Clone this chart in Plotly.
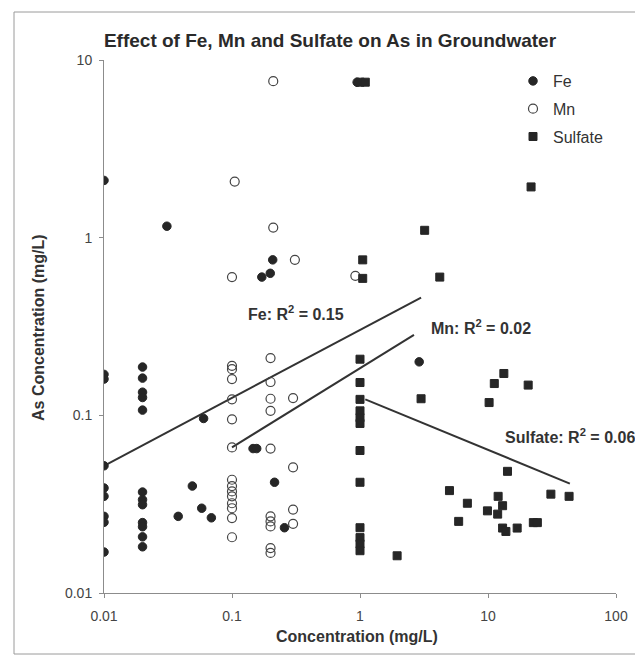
import plotly.graph_objects as go

# ---------------- data ----------------
fe_x = [0.01, 0.01, 0.01, 0.01, 0.01, 0.01, 0.01, 0.01, 0.01,
        0.02, 0.02, 0.02, 0.02, 0.02, 0.02, 0.02, 0.02, 0.02, 0.02, 0.02, 0.02,
        0.031, 0.038, 0.049, 0.058, 0.06, 0.069, 0.146, 0.156,
        0.171, 0.199, 0.208, 0.215, 0.257, 0.95, 2.9]
fe_y = [2.1, 0.17, 0.16, 0.052, 0.039, 0.035, 0.027, 0.025, 0.017,
        0.187, 0.162, 0.135, 0.126, 0.107, 0.037, 0.0335, 0.0314, 0.0249, 0.0236, 0.0207, 0.0182,
        1.16, 0.027, 0.040, 0.030, 0.096, 0.0265, 0.065, 0.065,
        0.60, 0.63, 0.75, 0.042, 0.0233, 7.5, 0.20]

mn_x = [0.21, 0.105, 0.21, 0.31, 0.1, 0.92, 0.2, 0.1,
        0.1, 0.1, 0.1, 0.1, 0.1, 0.1, 0.1, 0.1, 0.1, 0.1, 0.1, 0.1, 0.1,
        0.2, 0.2, 0.2, 0.2, 0.2, 0.2, 0.2, 0.2, 0.2,
        0.3, 0.3, 0.3, 0.3]
mn_y = [7.6, 2.07, 1.14, 0.75, 0.60, 0.61, 0.21, 0.19,
        0.182, 0.16, 0.123, 0.095, 0.066, 0.0434, 0.040, 0.0373, 0.035, 0.032, 0.030, 0.0264, 0.0206,
        0.154, 0.124, 0.106, 0.065, 0.027, 0.0253, 0.0237, 0.0179, 0.0168,
        0.125, 0.051, 0.0295, 0.0245]

so4_x = [1.0, 1.1, 3.2, 1.05, 1.05, 4.2, 21.7,
         1.0, 1.0, 1.0, 1.0, 1.0, 1.0, 1.0, 1.0, 1.0, 1.0, 1.0, 1.0,
         1.95, 3.0, 5.0, 5.9, 6.9, 9.9, 10.2, 11.2, 13.3, 20.6, 14.2,
         12.0, 13.0, 11.9, 13.0, 13.8, 16.9, 22.6, 24.3, 31, 43]
so4_y = [7.5, 7.5, 1.10, 0.75, 0.59, 0.60, 1.93,
         0.207, 0.153, 0.123, 0.106, 0.097, 0.090, 0.0634, 0.042, 0.0233, 0.0205, 0.0189, 0.0173,
         0.0162, 0.124, 0.0377, 0.0253, 0.032, 0.029, 0.118, 0.151, 0.172, 0.148, 0.0484,
         0.035, 0.031, 0.0278, 0.0232, 0.0222, 0.0232, 0.0249, 0.0249, 0.036, 0.035]

# trendline end points (power fits as drawn)
fe_trend_x = [0.01, 3.0]
fe_trend_y = [0.052, 0.46]
mn_trend_x = [0.1, 2.64]
mn_trend_y = [0.066, 0.284]
so4_trend_x = [1.1, 43.6]
so4_trend_y = [0.123, 0.0413]

x_ticks = [0.01, 0.1, 1, 10, 100]
x_tick_text = ["0.01", "0.1", "1", "10", "100"]
y_ticks = [0.01, 0.1, 1, 10]
y_tick_text = ["0.01", "0.1", "1", "10"]

# ---------------- figure ----------------
INK = "#262626"
FONT = "Liberation Sans, Arial, sans-serif"

fig = go.Figure()

for tx, ty in [(fe_trend_x, fe_trend_y), (mn_trend_x, mn_trend_y), (so4_trend_x, so4_trend_y)]:
    fig.add_trace(go.Scatter(x=tx, y=ty, mode="lines", showlegend=False,
                             line=dict(color="#333333", width=2), hoverinfo="skip"))

fig.add_trace(go.Scatter(x=fe_x, y=fe_y, mode="markers", name="Fe", legendgroup="fe",
                         marker=dict(symbol="circle", size=8.5, color=INK,
                                     line=dict(color=INK, width=1))))
fig.add_trace(go.Scatter(x=mn_x, y=mn_y, mode="markers", name="Mn", legendgroup="mn",
                         marker=dict(symbol="circle-open", size=9, color="#444444",
                                     line=dict(color="#444444", width=1.2))))
fig.add_trace(go.Scatter(x=so4_x, y=so4_y, mode="markers", name="Sulfate", legendgroup="so4",
                         marker=dict(symbol="square", size=8, color=INK,
                                     line=dict(color=INK, width=1))))

# page body has an 8px margin, so the figure starts at (8, 8) of the window
OFF = 8
PAGE_W, PAGE_H = 643, 664
W, H = PAGE_W - OFF, PAGE_H - OFF
# plot area in window pixels: x 104..616, y 60..593
L, R, T, B = 104 - OFF, PAGE_W - 616, 60 - OFF, PAGE_H - 593
pw, ph = W - L - R, H - T - B


def px(xp):
    return (xp - OFF - L) / pw


def py(yp):
    return (H - B - (yp - OFF)) / ph


annots = [
    dict(text="<b>Fe: R<sup>2</sup> = 0.15</b>", x=px(296), y=py(313), xanchor="center"),
    dict(text="<b>Mn: R<sup>2</sup> = 0.02</b>", x=px(481), y=py(327), xanchor="center"),
    dict(text="<b>Sulfate: R<sup>2</sup> = 0.06</b>", x=px(637), y=py(436), xanchor="right"),
]
for a in annots:
    fig.add_annotation(xref="paper", yref="paper", showarrow=False, yanchor="middle",
                       font=dict(family=FONT, size=16, color="#333333"), **a)

fig.add_annotation(xref="paper", yref="paper", x=px(357), y=py(636), showarrow=False,
                   text="<b>Concentration (mg/L)</b>", xanchor="center", yanchor="middle",
                   font=dict(family=FONT, size=16, color="#333333"))
fig.add_annotation(xref="paper", yref="paper", x=px(38), y=py(328), showarrow=False,
                   text="<b>As Concentration (mg/L)</b>", textangle=-90,
                   xanchor="center", yanchor="middle",
                   font=dict(family=FONT, size=16, color="#333333"))

# outer chart frame
fig.add_shape(type="rect", xref="paper", yref="paper",
              x0=px(14), x1=px(637), y0=py(654), y1=py(12),
              line=dict(color="#9a9a9a", width=1), fillcolor="rgba(0,0,0,0)", layer="below")

fig.update_layout(
    width=W, height=H,
    margin=dict(l=L, r=R, t=T, b=B),
    paper_bgcolor="white", plot_bgcolor="white",
    font=dict(family=FONT, color="#333333"),
    title=dict(text="<b>Effect of Fe, Mn and Sulfate on As in Groundwater</b>",
               x=(330 - OFF) / W, xanchor="center", y=1 - (40 - OFF) / H, yanchor="middle",
               font=dict(family=FONT, size=19, color="#2a2a2a")),
    legend=dict(x=px(513), y=py(64), xanchor="left", yanchor="top",
                bgcolor="rgba(0,0,0,0)", font=dict(family=FONT, size=16, color="#333333"),
                itemwidth=30, tracegroupgap=4),
    xaxis=dict(type="log", range=[-2, 2], tickvals=x_ticks, ticktext=x_tick_text,
               showgrid=False, zeroline=False, showline=True, linecolor="#8c8c8c", linewidth=1,
               ticks="outside", ticklen=4, tickcolor="#8c8c8c", ticklabelstandoff=6,
               tickfont=dict(family=FONT, size=14, color="#444444")),
    yaxis=dict(type="log", range=[-2, 1], tickvals=y_ticks, ticktext=y_tick_text,
               showgrid=False, zeroline=False, showline=True, linecolor="#8c8c8c", linewidth=1,
               ticks="outside", ticklen=4, tickcolor="#8c8c8c", ticklabelstandoff=4,
               tickfont=dict(family=FONT, size=14, color="#444444")),
    showlegend=True,
)

fig.write_html("out.html")
